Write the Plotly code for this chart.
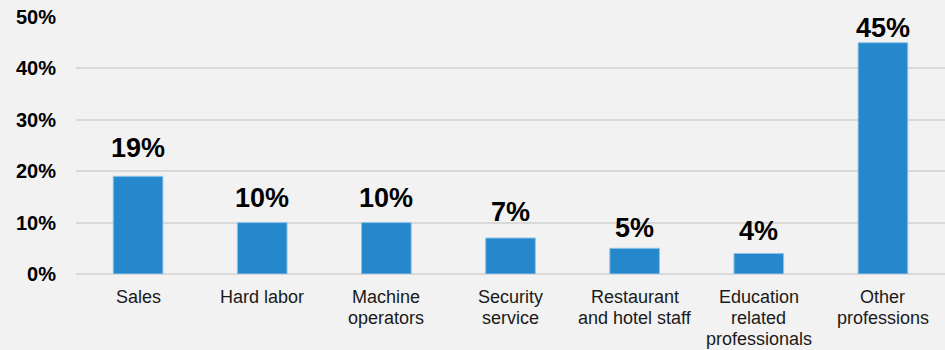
import plotly.graph_objects as go

# Share of respondents by profession
categories = ["Sales", "Hard labor", "Machine operators", "Security service",
              "Restaurant and hotel staff", "Education related professionals",
              "Other professions"]
category_lines = [
    ["Sales"],
    ["Hard labor"],
    ["Machine", "operators"],
    ["Security", "service"],
    ["Restaurant", "and hotel staff"],
    ["Education", "related", "professionals"],
    ["Other", "professions"],
]
shares = [19, 10, 10, 7, 5, 4, 45]
y_ticks = [0, 10, 20, 30, 40, 50]
y_tick_labels = [f"{v}%" for v in y_ticks]

# Pixel lift of each value label above its bar
label_lift = [28, 24.5, 24.5, 26, 20.5, 22, 15]

FONT = "Liberation Sans, Arial, sans-serif"
BAR = "#2688CC"

fig = go.Figure(
    go.Bar(
        x=categories,
        y=shares,
        width=0.4,
        marker=dict(color=BAR, line=dict(color="#8EC3EA", width=1)),
        hoverinfo="x+y",
    )
)

annotations = []

# Value labels above the bars
for cat, val, lift in zip(categories, shares, label_lift):
    annotations.append(dict(
        x=cat, xref="x", y=val, yref="y",
        text=f"<b>{val}%</b>", showarrow=False,
        yanchor="middle", yshift=lift,
        font=dict(family=FONT, size=27, color="#000000"),
    ))

# Multi-line category labels, one annotation per line for tight spacing
for cat, lines in zip(categories, category_lines):
    for i, line in enumerate(lines):
        annotations.append(dict(
            x=cat, xref="x", y=0, yref="paper",
            text=line, showarrow=False,
            yanchor="middle", yshift=-23 - 21 * i,
            font=dict(family=FONT, size=18, color="#1a1a1a"),
        ))

fig.update_layout(
    width=945, height=350,
    margin=dict(l=76, r=0, t=17, b=76),
    paper_bgcolor="#F2F2F2",
    plot_bgcolor="#F2F2F2",
    showlegend=False,
    annotations=annotations,
    xaxis=dict(showticklabels=False, showgrid=False, zeroline=False,
               showline=False, ticks=""),
    yaxis=dict(
        range=[0, 50],
        tickvals=y_ticks,
        ticktext=[f"<b>{t}</b>" for t in y_tick_labels],
        tickfont=dict(family=FONT, size=20, color="#000000"),
        showgrid=True, gridcolor="#D9D9D9", gridwidth=2,
        zeroline=True, zerolinecolor="#D9D9D9", zerolinewidth=2,
        showline=False, ticks="", ticklabelstandoff=19,
    ),
)

fig.write_html("out.html")
